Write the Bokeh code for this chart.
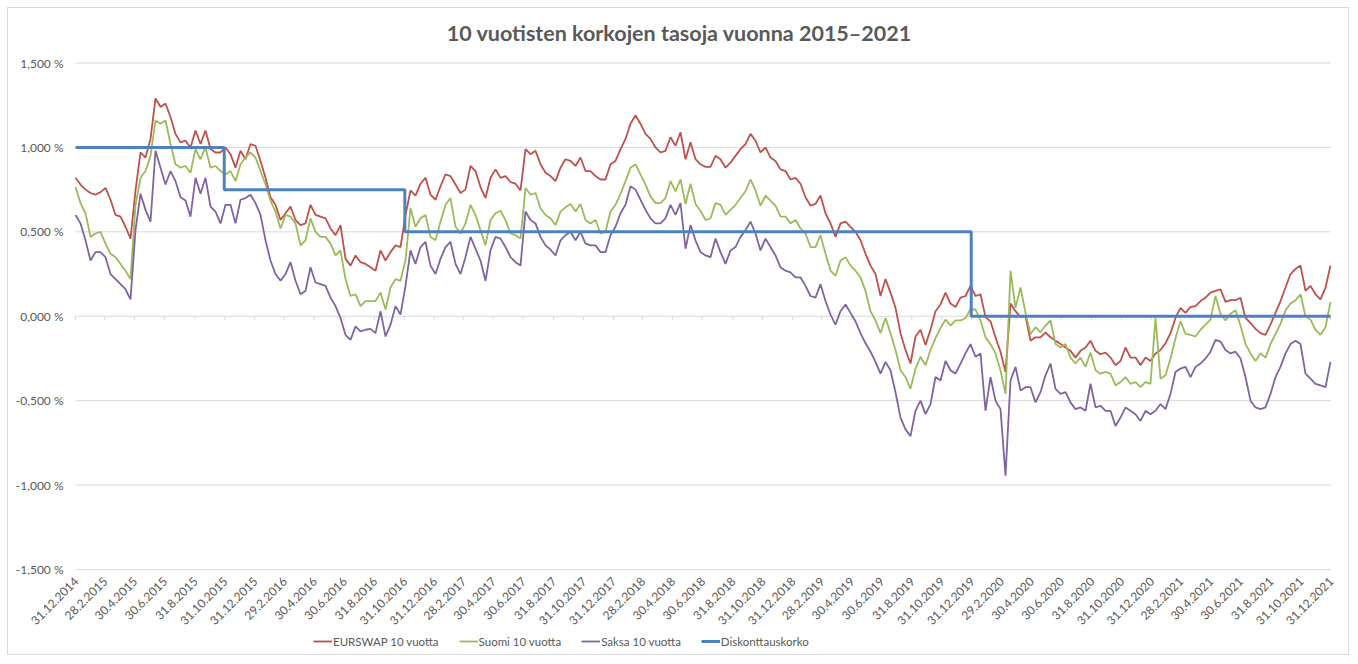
import math
import pandas as pd
from bokeh.plotting import figure
from bokeh.models import Legend, LegendItem, Range1d
from bokeh.core.properties import value
from bokeh.embed import file_html
from bokeh.resources import INLINE

title_text = "10 vuotisten korkojen tasoja vuonna 2015–2021"
series_names = ["EURSWAP 10 vuotta", "Suomi 10 vuotta", "Saksa 10 vuotta", "Diskonttauskorko"]
series_colors = ["#C0504D", "#9BBB59", "#8064A2", "#4F81BD"]

start_date = "2014-12-31"
end_date = "2021-12-31"
n_samples = 252

eurswap = [
    0.82, 0.78, 0.75, 0.73, 0.72, 0.735, 0.76, 0.69, 0.60, 0.59, 0.53, 0.46, 0.745, 0.97, 0.94, 1.05, 1.29, 1.24, 1.26, 1.18, 1.08,
    1.03, 1.04, 1.00, 1.10, 1.02, 1.10, 0.99, 0.97, 0.97, 1.00, 0.96, 0.88, 0.98, 0.93, 1.02, 1.01, 0.92, 0.82, 0.705, 0.66, 0.57,
    0.61, 0.65, 0.57, 0.54, 0.55, 0.66, 0.60, 0.59, 0.58, 0.52, 0.48, 0.54, 0.34, 0.30, 0.36, 0.32, 0.31, 0.29, 0.27, 0.39, 0.33,
    0.38, 0.42, 0.41, 0.60, 0.745, 0.715, 0.785, 0.82, 0.72, 0.69, 0.77, 0.84, 0.83, 0.78, 0.73, 0.75, 0.89, 0.86, 0.765, 0.70, 0.82,
    0.87, 0.82, 0.83, 0.795, 0.785, 0.745, 0.99, 0.96, 0.98, 0.90, 0.85, 0.83, 0.80, 0.88, 0.93, 0.92, 0.89, 0.94, 0.86, 0.86, 0.83,
    0.81, 0.81, 0.90, 0.92, 0.99, 1.05, 1.14, 1.19, 1.14, 1.08, 1.05, 1.00, 0.97, 0.98, 1.06, 1.01, 1.09, 0.93, 1.03, 0.93, 0.90,
    0.885, 0.885, 0.95, 0.93, 0.88, 0.91, 0.95, 0.99, 1.02, 1.08, 1.04, 0.97, 1.00, 0.94, 0.92, 0.87, 0.86, 0.81, 0.82, 0.785, 0.705,
    0.655, 0.665, 0.715, 0.61, 0.55, 0.47, 0.55, 0.56, 0.53, 0.50, 0.45, 0.37, 0.30, 0.25, 0.12, 0.22, 0.14, 0.05, -0.10, -0.20, -0.28,
    -0.12, -0.08, -0.17, -0.08, 0.03, 0.07, 0.14, 0.075, 0.055, 0.11, 0.12, 0.18, 0.12, 0.13, -0.005, -0.03, -0.125, -0.21, -0.33, 0.075, 0.03,
    -0.005, 0.00, -0.145, -0.125, -0.125, -0.095, -0.125, -0.145, -0.165, -0.185, -0.205, -0.245, -0.205, -0.185, -0.145, -0.205, -0.225, -0.215, -0.245, -0.29, -0.265,
    -0.185, -0.245, -0.245, -0.29, -0.245, -0.265, -0.22, -0.20, -0.16, -0.10, -0.01, 0.05, 0.02, 0.055, 0.06, 0.09, 0.11, 0.14, 0.15, 0.16, 0.085,
    0.095, 0.095, 0.11, -0.01, -0.04, -0.075, -0.10, -0.11, -0.05, 0.02, 0.09, 0.17, 0.25, 0.28, 0.30, 0.15, 0.18, 0.13, 0.10, 0.17, 0.30,
]

suomi = [
    0.765, 0.67, 0.61, 0.47, 0.49, 0.50, 0.43, 0.37, 0.35, 0.31, 0.27, 0.22, 0.66, 0.82, 0.86, 0.95, 1.16, 1.14, 1.16, 1.02, 0.90,
    0.88, 0.89, 0.85, 0.99, 0.93, 1.00, 0.88, 0.89, 0.86, 0.84, 0.86, 0.80, 0.90, 0.94, 0.97, 0.94, 0.86, 0.78, 0.685, 0.62, 0.52,
    0.60, 0.59, 0.55, 0.42, 0.45, 0.58, 0.50, 0.47, 0.47, 0.43, 0.36, 0.39, 0.22, 0.12, 0.13, 0.06, 0.09, 0.09, 0.09, 0.14, 0.04,
    0.17, 0.22, 0.21, 0.33, 0.64, 0.53, 0.58, 0.60, 0.47, 0.45, 0.56, 0.66, 0.70, 0.53, 0.49, 0.55, 0.66, 0.60, 0.51, 0.42, 0.57,
    0.61, 0.625, 0.57, 0.49, 0.48, 0.46, 0.76, 0.72, 0.73, 0.64, 0.60, 0.58, 0.54, 0.62, 0.645, 0.665, 0.62, 0.665, 0.57, 0.55, 0.57,
    0.49, 0.50, 0.62, 0.66, 0.725, 0.80, 0.88, 0.90, 0.84, 0.78, 0.71, 0.67, 0.67, 0.70, 0.80, 0.74, 0.81, 0.665, 0.785, 0.665, 0.625,
    0.57, 0.58, 0.67, 0.66, 0.60, 0.63, 0.66, 0.70, 0.74, 0.81, 0.745, 0.655, 0.715, 0.685, 0.655, 0.59, 0.59, 0.55, 0.57, 0.52, 0.49,
    0.41, 0.41, 0.48, 0.37, 0.27, 0.24, 0.33, 0.35, 0.30, 0.27, 0.23, 0.15, 0.03, -0.025, -0.10, -0.01, -0.10, -0.20, -0.32, -0.36, -0.43,
    -0.31, -0.24, -0.29, -0.20, -0.13, -0.07, -0.02, -0.055, -0.025, -0.025, -0.01, 0.04, 0.04, -0.025, -0.125, -0.165, -0.22, -0.32, -0.46, 0.27, 0.05,
    0.17, 0.02, -0.105, -0.065, -0.095, -0.055, -0.025, -0.165, -0.185, -0.165, -0.245, -0.28, -0.245, -0.30, -0.215, -0.32, -0.34, -0.33, -0.34, -0.41, -0.39,
    -0.36, -0.40, -0.39, -0.42, -0.39, -0.40, -0.01, -0.37, -0.35, -0.25, -0.13, -0.03, -0.105, -0.11, -0.12, -0.08, -0.05, -0.02, 0.12, 0.015, -0.025,
    0.015, 0.035, -0.055, -0.165, -0.22, -0.265, -0.22, -0.245, -0.165, -0.105, -0.045, 0.035, 0.075, 0.095, 0.13, 0.00, -0.02, -0.08, -0.11, -0.065, 0.085,
]

saksa = [
    0.60, 0.55, 0.45, 0.33, 0.38, 0.38, 0.35, 0.25, 0.22, 0.19, 0.16, 0.10, 0.51, 0.725, 0.63, 0.56, 0.98, 0.88, 0.78, 0.86, 0.80,
    0.705, 0.685, 0.59, 0.82, 0.725, 0.82, 0.65, 0.62, 0.55, 0.66, 0.66, 0.55, 0.69, 0.70, 0.72, 0.67, 0.60, 0.45, 0.33, 0.25, 0.21,
    0.25, 0.32, 0.21, 0.13, 0.15, 0.29, 0.20, 0.19, 0.18, 0.11, 0.06, -0.01, -0.11, -0.14, -0.06, -0.09, -0.08, -0.075, -0.10, 0.03, -0.12,
    -0.05, 0.06, 0.01, 0.18, 0.39, 0.31, 0.41, 0.44, 0.30, 0.25, 0.34, 0.41, 0.44, 0.31, 0.25, 0.35, 0.47, 0.40, 0.33, 0.21, 0.39,
    0.47, 0.46, 0.41, 0.35, 0.32, 0.30, 0.62, 0.57, 0.55, 0.47, 0.42, 0.395, 0.36, 0.45, 0.48, 0.50, 0.45, 0.50, 0.43, 0.42, 0.42,
    0.38, 0.38, 0.48, 0.53, 0.61, 0.66, 0.77, 0.75, 0.69, 0.63, 0.58, 0.55, 0.55, 0.58, 0.66, 0.60, 0.67, 0.40, 0.54, 0.45, 0.38,
    0.36, 0.35, 0.46, 0.38, 0.31, 0.39, 0.41, 0.47, 0.51, 0.56, 0.49, 0.39, 0.46, 0.41, 0.36, 0.29, 0.27, 0.26, 0.23, 0.23, 0.18,
    0.12, 0.11, 0.19, 0.09, 0.01, -0.05, 0.03, 0.07, 0.02, -0.03, -0.10, -0.16, -0.21, -0.27, -0.34, -0.27, -0.32, -0.45, -0.60, -0.67, -0.71,
    -0.56, -0.50, -0.58, -0.52, -0.36, -0.38, -0.265, -0.32, -0.34, -0.28, -0.22, -0.165, -0.24, -0.22, -0.56, -0.36, -0.50, -0.55, -0.945, -0.38, -0.30,
    -0.44, -0.42, -0.42, -0.51, -0.45, -0.35, -0.28, -0.43, -0.46, -0.45, -0.51, -0.55, -0.54, -0.56, -0.40, -0.54, -0.53, -0.56, -0.56, -0.65, -0.60,
    -0.54, -0.56, -0.58, -0.62, -0.56, -0.58, -0.56, -0.52, -0.55, -0.46, -0.33, -0.31, -0.30, -0.36, -0.30, -0.28, -0.25, -0.21, -0.14, -0.15, -0.20,
    -0.22, -0.21, -0.25, -0.36, -0.50, -0.54, -0.55, -0.54, -0.46, -0.36, -0.30, -0.22, -0.165, -0.145, -0.165, -0.34, -0.37, -0.40, -0.41, -0.42, -0.27,
]

disk_dates = ["2014-12-31", "2015-10-30", "2016-11-01", "2019-12-30", "2021-12-31"]
disk_vals = [1.0, 0.75, 0.5, 0.0, 0.0]

y_ticks = [-1.5, -1.0, -0.5, 0.0, 0.5, 1.0, 1.5]
y_tick_labels = ["-1,500 %", "-1,000 %", "-0,500 %", "0,000 %", "0,500 %", "1,000 %", "1,500 %"]
x_tick_labels = [
    "31.12.2014",
    "28.2.2015", "30.4.2015", "30.6.2015", "31.8.2015", "31.10.2015", "31.12.2015",
    "29.2.2016", "30.4.2016", "30.6.2016", "31.8.2016", "31.10.2016", "31.12.2016",
    "28.2.2017", "30.4.2017", "30.6.2017", "31.8.2017", "31.10.2017", "31.12.2017",
    "28.2.2018", "30.4.2018", "30.6.2018", "31.8.2018", "31.10.2018", "31.12.2018",
    "28.2.2019", "30.4.2019", "30.6.2019", "31.8.2019", "31.10.2019", "31.12.2019",
    "29.2.2020", "30.4.2020", "30.6.2020", "31.8.2020", "31.10.2020", "31.12.2020",
    "28.2.2021", "30.4.2021", "30.6.2021", "31.8.2021", "31.10.2021", "31.12.2021",
]

TEXT = "#595959"
GRID = "#d9d9d9"
FONT = "Lato"

# ---- layout (pixels inside the 1342 x 648 canvas) ----
W, H = 1342, 648
PLOT_L, PLOT_R = 67, 1322      # where the first / last date sit
PLOT_T, PLOT_B = 54.5, 561     # where +1.5 % / -1.5 % sit

t0, t1 = pd.Timestamp(start_date), pd.Timestamp(end_date)
span_days = (t1 - t0) / pd.Timedelta(days=1)
px_per_day = (PLOT_R - PLOT_L) / span_days
x_lo = t0 - pd.Timedelta(days=PLOT_L / px_per_day)
x_hi = t1 + pd.Timedelta(days=(W - PLOT_R) / px_per_day)
y_top, y_bot = max(y_ticks), min(y_ticks)
px_per_unit = (PLOT_B - PLOT_T) / (y_top - y_bot)
y_hi = y_top + PLOT_T / px_per_unit
y_lo = y_bot - (H - PLOT_B) / px_per_unit

sample_dates = pd.date_range(start_date, end_date, periods=n_samples)
tick_dt = list(pd.to_datetime(x_tick_labels, format="%d.%m.%Y"))

p = figure(width=W, height=H, output_backend="svg", toolbar_location=None,
           x_axis_location=None, y_axis_location=None,
           x_range=Range1d(x_lo, x_hi), y_range=Range1d(y_lo, y_hi),
           min_border=0)
p.styles = {"margin": "7px 0 0 7px", "border": "1px solid #d9d9d9"}
p.outline_line_color = None
p.grid.visible = False
p.background_fill_color = "white"
p.border_fill_color = "white"

# horizontal gridlines across the date span
p.segment(x0=[t0] * len(y_ticks), x1=[t1] * len(y_ticks), y0=y_ticks, y1=y_ticks,
          line_color=GRID, line_width=1)
# category-axis tick marks on the zero line
p.segment(x0=tick_dt, y0=0, x1=tick_dt, y1=-4 / px_per_unit, line_color=GRID, line_width=1)

# y tick labels
p.text(x=[t0] * len(y_ticks), y=y_ticks, text=y_tick_labels, x_offset=-12,
       text_align="right", text_baseline="middle",
       text_font=value(FONT), text_font_size=value("12px"), text_color=TEXT)
# x tick labels (rotated, ending at the tick)
p.text(x=tick_dt, y=[y_bot] * len(tick_dt), text=x_tick_labels, angle=math.pi / 4,
       x_offset=1, y_offset=10, text_align="right", text_baseline="middle",
       text_font=value(FONT), text_font_size=value("12px"), text_color=TEXT)
# title
p.text(x=[x_lo + (x_hi - x_lo) / 2], y=[y_top + 30 / px_per_unit], text=[title_text],
       text_align="center", text_baseline="middle",
       text_font=value(FONT), text_font_size=value("21.5px"), text_font_style="bold", text_color=TEXT)

r1 = p.line(sample_dates, eurswap, line_color=series_colors[0], line_width=1.8)
r2 = p.line(sample_dates, suomi, line_color=series_colors[1], line_width=1.8)
r3 = p.line(sample_dates, saksa, line_color=series_colors[2], line_width=1.8)
r4 = p.step(pd.to_datetime(disk_dates), disk_vals, mode="after", line_color=series_colors[3], line_width=3)

legend = Legend(items=[LegendItem(label=n, renderers=[r]) for n, r in zip(series_names, [r1, r2, r3, r4])],
                orientation="horizontal", location=(305, 7),
                glyph_width=19, glyph_height=16, label_height=16, label_standoff=1,
                spacing=20, padding=2, margin=0,
                border_line_color=None, background_fill_alpha=0,
                label_text_font=FONT, label_text_font_size="11.5px", label_text_color=TEXT)
p.add_layout(legend, "center")

open("out.html", "w").write(file_html(p, INLINE))
